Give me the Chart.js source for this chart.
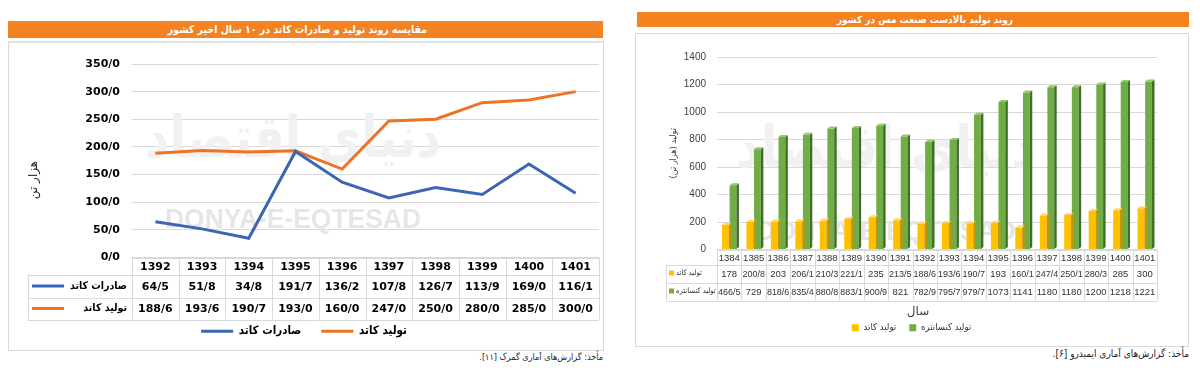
<!DOCTYPE html>
<html lang="fa">
<head>
<meta charset="utf-8">
<script src="https://cdn.jsdelivr.net/npm/chart.js@4.4.0/dist/chart.umd.min.js"></script>
<style>
  body { margin: 0; background: #fff; width: 1200px; height: 374px; overflow: hidden; position: relative; font-family: "DejaVu Sans", sans-serif; }
  .head { position: absolute; background: #f58220; color: #fff; font-weight: bold; font-family: "DejaVu Sans Condensed", "DejaVu Sans", sans-serif; text-align: center; direction: rtl; white-space: nowrap; }
  .box { position: absolute; border: 1px solid #d9d9d9; box-sizing: border-box; }
  canvas { position: absolute; }
  .src { position: absolute; color: #222; direction: rtl; white-space: nowrap; font-family: "DejaVu Sans Condensed", "DejaVu Sans", sans-serif; }
</style>
</head>
<body>
<div class="head" style="left:8px;top:21px;width:595px;height:17px;line-height:17px;font-size:10.5px;padding-right:16px;box-sizing:border-box">مقایسه روند تولید و صادرات کاتد در ۱۰ سال اخیر کشور</div>
<div class="box" style="left:8px;top:41px;width:596px;height:310px;border-top:2px solid #e3e3e3"></div>
<canvas id="left" dir="rtl" width="594" height="306" style="left:9px;top:43px"></canvas>
<div class="src" style="right:597px;top:352px;font-size:9px">مأخذ: گزارش‌های آماری گمرک [۱۱].</div>

<div class="head" style="left:637px;top:12px;width:552px;height:15px;line-height:15px;font-size:10px;padding-left:24px;box-sizing:border-box">روند تولید بالادست صنعت مس در کشور</div>
<div class="box" style="left:635px;top:33px;width:554px;height:314px"></div>
<canvas id="right" dir="rtl" width="551" height="312" style="left:636px;top:34px"></canvas>
<div class="src" style="right:11px;top:348px;font-size:10px">مأخذ: گزارش‌های آماری ایمیدرو [۶].</div>

<script>
// left chart: cathode production vs exports (thousand tonnes)
const leftYears = ["1392", "1393", "1394", "1395", "1396", "1397", "1398", "1399", "1400", "1401"];
const cathodeExports = [64.5, 51.8, 34.8, 191.7, 136.2, 107.8, 126.7, 113.9, 169.0, 116.1];
const cathodeOutput = [188.6, 193.6, 190.7, 193.0, 160.0, 247.0, 250.0, 280.0, 285.0, 300.0];
const leftTicks = [0, 50, 100, 150, 200, 250, 300, 350];

// right chart: upstream copper production
const rightYears = ["1384", "1385", "1386", "1387", "1388", "1389", "1390", "1391", "1392",
  "1393", "1394", "1395", "1396", "1397", "1398", "1399", "1400", "1401"];
const rightCathode = [178, 200.8, 203, 206.1, 210.3, 221.1, 235, 213.5, 188.6, 193.6, 190.7, 193,
  160.1, 247.4, 250.1, 280.3, 285, 300];
const rightConcentrate = [466.5, 729, 818.6, 835.4, 880.8, 883.1, 900.9, 821, 782.9, 795.7, 979.7,
  1073, 1141, 1180, 1180, 1200, 1218, 1221];
const rightTicks = [0, 200, 400, 600, 800, 1000, 1200, 1400];

const fmt1 = v => v.toFixed(1).replace(".", "/");
const fmtR = v => String(v).replace(".", "/");
const FA = "DejaVu Sans";
const FAC = "'DejaVu Sans Condensed', 'DejaVu Sans'";
const NUM = "'Liberation Sans'";

function hline(ctx, x1, x2, y) {
  y = Math.round(y) + 0.5;
  ctx.beginPath(); ctx.moveTo(x1, y); ctx.lineTo(x2, y); ctx.stroke();
}
function vline(ctx, x, y1, y2) {
  x = Math.round(x) + 0.5;
  ctx.beginPath(); ctx.moveTo(x, y1); ctx.lineTo(x, y2); ctx.stroke();
}

function watermark(ctx, cx, logoY, textY, w) {
  ctx.save();
  ctx.textAlign = "center";
  ctx.textBaseline = "middle";
  ctx.fillStyle = "#f1f1f1";
  ctx.font = "bold 58px " + FA;
  ctx.fillText("دنیای اقتصاد", cx, logoY, w + 40);
  ctx.fillStyle = "#e6e6e6";
  ctx.font = "bold 27px 'Liberation Sans'";
  ctx.fillText("DONYA-E-EQTESAD", cx, textY, w);
  ctx.restore();
}

const leftExtras = {
  id: "leftExtras",
  beforeDatasetsDraw(chart) {
    watermark(chart.ctx, 284, 99, 178, 256);
  },
  afterDraw(chart) {
    const { ctx, chartArea: ca, scales: { x } } = chart;
    const w = x.getPixelForValue(1) - x.getPixelForValue(0);
    const t0 = ca.bottom, t1 = t0 + 17, t2 = t1 + 23, t3 = t2 + 22;
    const labL = 19;
    ctx.save();
    ctx.strokeStyle = "#d9d9d9";
    ctx.lineWidth = 1;
    hline(ctx, ca.left, ca.right, t0);
    hline(ctx, labL, ca.right, t1);
    hline(ctx, labL, ca.right, t2);
    hline(ctx, labL, ca.right, t3);
    vline(ctx, labL, t1, t3);
    for (let i = 0; i <= leftYears.length; i++) {
      vline(ctx, x.getPixelForValue(0) - w / 2 + i * w, t0, t3);
    }
    ctx.textBaseline = "middle";
    ctx.textAlign = "center";
    ctx.fillStyle = "#000";
    ctx.font = "bold 11px " + FA;
    leftYears.forEach((yr, i) => {
      const cx = x.getPixelForValue(i);
      ctx.fillText(yr, cx, (t0 + t1) / 2 + 1);
      ctx.fillText(fmt1(cathodeExports[i]), cx, (t1 + t2) / 2 + 1);
      ctx.fillText(fmt1(cathodeOutput[i]), cx, (t2 + t3) / 2 + 1);
    });
    // row labels with line keys
    const ds = chart.data.datasets;
    [[t1, t2], [t2, t3]].forEach(([a, b], r) => {
      const cy = (a + b) / 2;
      ctx.fillStyle = ds[r].borderColor;
      ctx.fillRect(23, cy - 1.5, 32, 3);
      ctx.fillStyle = "#000";
      ctx.textAlign = "right";
      ctx.font = "bold 10.5px " + FAC;
      ctx.fillText(ds[r].label, 118, cy);
    });
    // y title
    ctx.translate(25, 137);
    ctx.rotate(-Math.PI / 2);
    ctx.textAlign = "center";
    ctx.font = "12px " + FA;
    ctx.fillStyle = "#222";
    ctx.fillText("هزار تن", 0, 0);
    ctx.restore();
  }
};

new Chart(document.getElementById("left"), {
  type: "line",
  data: {
    labels: leftYears,
    datasets: [
      { label: "صادرات کاتد", data: cathodeExports, borderColor: "#3b66b4", backgroundColor: "#3b66b4",
        borderWidth: 3, pointRadius: 0, tension: 0 },
      { label: "تولید کاتد", data: cathodeOutput, borderColor: "#ee7425", backgroundColor: "#ee7425",
        borderWidth: 3, pointRadius: 0, tension: 0 }
    ]
  },
  options: {
    responsive: false,
    animation: false,
    layout: { padding: { left: 0, right: 4, top: 21, bottom: 2 } },
    scales: {
      x: {
        offset: true,
        grid: { display: false },
        border: { display: false },
        ticks: { display: false },
        afterFit: s => { s.height = 48; }
      },
      y: {
        min: 0, max: 350,
        afterBuildTicks: s => { s.ticks = leftTicks.map(v => ({ value: v })); },
        ticks: { padding: 12, color: "#000", font: { family: FA, size: 11, weight: "bold" }, callback: v => fmt1(v) },
        grid: { color: "#d9d9d9", drawTicks: false },
        border: { display: false },
        afterFit: s => { s.width = 123; }
      }
    },
    plugins: {
      legend: {
        position: "bottom",
        labels: {
          boxWidth: 32, boxHeight: 3, padding: 20, color: "#000",
          font: { family: FAC, size: 11.5, weight: "bold" },
          generateLabels: c => Chart.defaults.plugins.legend.labels.generateLabels(c).map(l => ({ ...l, lineWidth: 0 }))
        }
      },
      tooltip: { enabled: false }
    }
  },
  plugins: [leftExtras]
});

const rightExtras = {
  id: "rightExtras",
  beforeDatasetsDraw(chart) {
    watermark(chart.ctx, 250, 118, 199, 260);
  },
  afterDatasetsDraw(chart) {
    const ctx = chart.ctx;
    ctx.save();
    chart.data.datasets.forEach((ds, di) => {
      chart.getDatasetMeta(di).data.forEach(bar => {
        const { x, y, base, width } = bar.getProps(["x", "y", "base", "width"], true);
        const l = x - width / 2, r = x + width / 2, d = 2.5, dy = 2;
        ctx.fillStyle = ds.sideColor;
        ctx.beginPath();
        ctx.moveTo(r, y); ctx.lineTo(r + d, y - dy); ctx.lineTo(r + d, base - dy); ctx.lineTo(r, base);
        ctx.closePath(); ctx.fill();
        ctx.fillStyle = ds.topColor;
        ctx.beginPath();
        ctx.moveTo(l, y); ctx.lineTo(l + d, y - dy); ctx.lineTo(r + d, y - dy); ctx.lineTo(r, y);
        ctx.closePath(); ctx.fill();
      });
    });
    ctx.restore();
  },
  afterDraw(chart) {
    const { ctx, chartArea: ca, scales: { x } } = chart;
    const w = x.getPixelForValue(1) - x.getPixelForValue(0);
    const t0 = ca.bottom, t1 = t0 + 15, t2 = t1 + 18, t3 = t2 + 18;
    const labL = 30;
    ctx.save();
    ctx.strokeStyle = "#d9d9d9";
    ctx.lineWidth = 1;
    hline(ctx, ca.left, ca.right, t0);
    hline(ctx, labL, ca.right, t1);
    hline(ctx, labL, ca.right, t2);
    hline(ctx, labL, ca.right, t3);
    vline(ctx, labL, t1, t3);
    for (let i = 0; i <= rightYears.length; i++) {
      vline(ctx, x.getPixelForValue(0) - w / 2 + i * w, t0, t3);
    }
    ctx.textBaseline = "middle";
    ctx.textAlign = "center";
    ctx.fillStyle = "#333";
    ctx.font = "9.5px " + NUM;
    rightYears.forEach((yr, i) => {
      const cx = x.getPixelForValue(i);
      ctx.fillText(yr, cx, (t0 + t1) / 2 + 1);
      ctx.fillText(fmtR(rightCathode[i]), cx, (t1 + t2) / 2 + 1, w - 2);
      ctx.fillText(fmtR(rightConcentrate[i]), cx, (t2 + t3) / 2 + 1, w - 2);
    });
    const ds = chart.data.datasets;
    [[t1, t2], [t2, t3]].forEach(([a, b], r) => {
      const cy = (a + b) / 2;
      ctx.fillStyle = ds[r].backgroundColor;
      ctx.fillRect(33, cy - 3, 5, 5);
      ctx.fillStyle = "#333";
      ctx.textAlign = "left";
      ctx.font = "7.5px " + FAC;
      ctx.fillText(ds[r].label, 40, cy, 40);
    });
    // x title
    ctx.textAlign = "center";
    ctx.font = "12px " + FA;
    ctx.fillStyle = "#404040";
    ctx.fillText("سال", 282, 278);
    ctx.restore();
  }
};

new Chart(document.getElementById("right"), {
  type: "bar",
  data: {
    labels: rightYears,
    datasets: [
      { label: "تولید کاتد", data: rightCathode, backgroundColor: "#ffc000", sideColor: "#c99400", topColor: "#ffd966" },
      { label: "تولید کنسانتره", data: rightConcentrate, backgroundColor: "#70ad47", sideColor: "#3f6f24", topColor: "#93c56e" }
    ]
  },
  options: {
    responsive: false,
    animation: false,
    layout: { padding: { left: 0, right: 0, top: 23, bottom: 3.5 } },
    datasets: { bar: { categoryPercentage: 0.62, barPercentage: 0.9 } },
    scales: {
      x: {
        grid: { display: false },
        border: { display: false },
        ticks: { display: false },
        afterFit: s => { s.height = 60.5; }
      },
      y: {
        min: 0, max: 1400,
        afterBuildTicks: s => { s.ticks = rightTicks.map(v => ({ value: v })); },
        ticks: { padding: 11, color: "#404040", font: { family: NUM, size: 10 }, callback: v => String(v) },
        grid: { color: "#d9d9d9", drawTicks: false },
        border: { display: false },
        title: { display: true, text: "تولید (هزار تن)", color: "#404040", font: { family: FAC, size: 9 }, padding: { top: 32, bottom: 0 } },
        afterFit: s => { s.width = 81; }
      },
      pad: {
        position: "right",
        grid: { display: false },
        border: { display: false },
        ticks: { display: false },
        afterFit: s => { s.width = 30; }
      }
    },
    plugins: {
      legend: {
        position: "bottom",
        labels: { boxWidth: 7, boxHeight: 7, padding: 13, color: "#333", font: { family: FAC, size: 9.5 } }
      },
      tooltip: { enabled: false }
    }
  },
  plugins: [rightExtras]
});
</script>
</body>
</html>
